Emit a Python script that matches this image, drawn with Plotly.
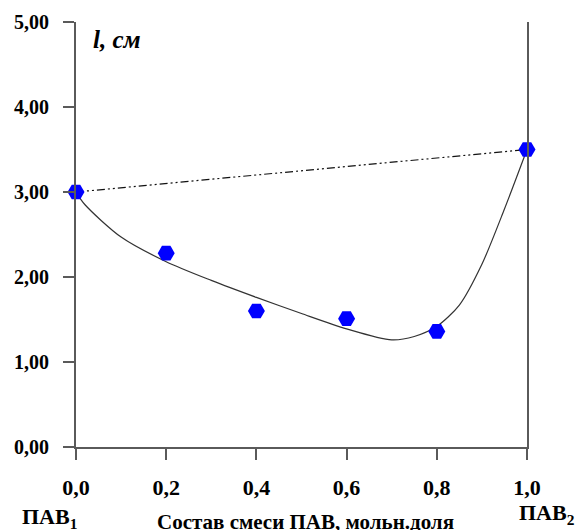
import plotly.graph_objects as go

# Measured points
x_pts = [0.0, 0.2, 0.4, 0.6, 0.8, 1.0]
y_pts = [3.00, 2.28, 1.60, 1.51, 1.36, 3.50]

# Smooth trend curve
x_fit = [0.0, 0.02, 0.1, 0.2, 0.3, 0.4, 0.5, 0.6, 0.7, 0.75, 0.8, 0.85, 0.9, 0.95, 1.0]
y_fit = [3.00, 2.85, 2.47, 2.18, 1.96, 1.76, 1.57, 1.39, 1.26, 1.30, 1.42, 1.67, 2.15, 2.80, 3.50]

# Additive straight line
x_add = [0.0, 1.0]
y_add = [3.00, 3.50]

x_ticks = [0.0, 0.2, 0.4, 0.6, 0.8, 1.0]
x_ticktext = ["<b>0,0</b>", "<b>0,2</b>", "<b>0,4</b>", "<b>0,6</b>", "<b>0,8</b>", "<b>1,0</b>"]
y_ticks = [0, 1, 2, 3, 4, 5]
y_ticktext = ["<b>0,00</b>", "<b>1,00</b>", "<b>2,00</b>", "<b>3,00</b>", "<b>4,00</b>", "<b>5,00</b>"]

FONT = "Liberation Serif"
AX = "#5a5a5a"

fig = go.Figure()
fig.add_trace(go.Scatter(x=x_add, y=y_add, mode="lines",
                         line=dict(color="#111111", width=1.2, dash="8px,3px,2px,3px,2px,3px"),
                         hoverinfo="skip"))
fig.add_trace(go.Scatter(x=x_fit, y=y_fit, mode="lines",
                         line=dict(color="#333333", width=1.2, shape="spline", smoothing=0.8),
                         hoverinfo="skip"))
fig.add_trace(go.Scatter(x=x_pts, y=y_pts, mode="markers",
                         marker=dict(symbol="hexagon2", size=17, color="#0000ff",
                                     line=dict(width=0)),
                         cliponaxis=False))

fig.update_layout(
    width=576, height=530,
    margin=dict(l=76, r=49, t=22, b=83),
    paper_bgcolor="white", plot_bgcolor="white",
    showlegend=False,
    font=dict(family=FONT, size=16, color="black"),
)
fig.update_xaxes(range=[0, 1], tickvals=x_ticks, ticktext=x_ticktext,
                 showgrid=False, zeroline=False, showline=True, linecolor=AX, linewidth=2,
                 ticks="outside", ticklen=11, tickwidth=2, tickcolor=AX,
                 tickfont=dict(family=FONT, size=22, color="black"),
                 ticklabelstandoff=9)
fig.update_yaxes(range=[0, 5], tickvals=y_ticks, ticktext=y_ticktext,
                 showgrid=False, zeroline=False, showline=True, linecolor=AX, linewidth=2,
                 mirror=True,
                 ticks="outside", ticklen=11, tickwidth=2, tickcolor=AX,
                 tickfont=dict(family=FONT, size=20, color="black"),
                 ticklabelstandoff=10)

fig.add_annotation(xref="paper", yref="paper", x=0.033, y=0.96, xanchor="left", yanchor="middle",
                   text="<b><i>l, см</i></b>", showarrow=False,
                   font=dict(family=FONT, size=25, color="black"))
fig.add_annotation(xref="paper", yref="paper", x=-0.058, y=-0.166, xanchor="center", yanchor="middle",
                   text="<b>ПАВ<sub>1</sub></b>", showarrow=False,
                   font=dict(family=FONT, size=22, color="black"))
fig.add_annotation(xref="paper", yref="paper", x=0.508, y=-0.176, xanchor="center", yanchor="middle",
                   text="<b>Состав смеси ПАВ, мольн.доля</b>", showarrow=False,
                   font=dict(family=FONT, size=21, color="black"))
fig.add_annotation(xref="paper", yref="paper", x=1.045, y=-0.157, xanchor="center", yanchor="middle",
                   text="<b>ПАВ<sub>2</sub></b>", showarrow=False,
                   font=dict(family=FONT, size=22, color="black"))

fig.write_html("out.html")
